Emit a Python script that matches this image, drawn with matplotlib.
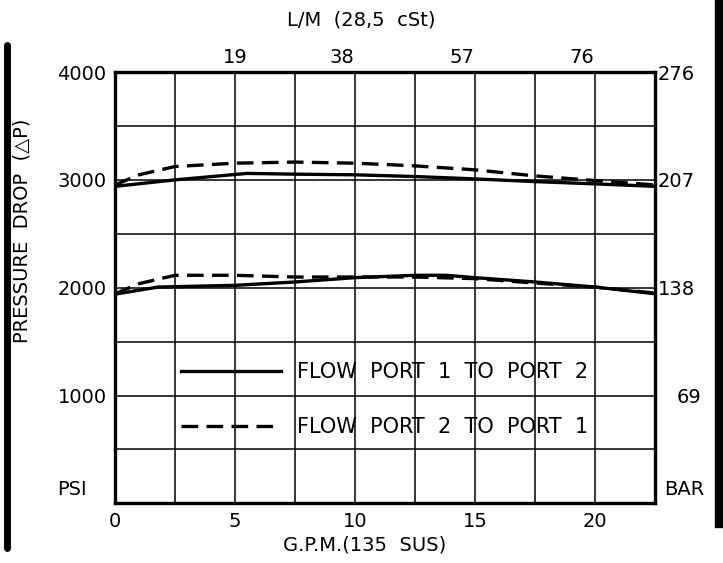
import numpy as np
import matplotlib.pyplot as plt
from matplotlib.lines import Line2D

plt.rcParams['font.family'] = ['DejaVu Sans']

# GPM values
x_up_solid = [0, 2.5, 5.5, 7.5, 10, 12.5, 15, 17.5, 20, 22.5]
y_up_solid = [2940, 3000, 3060, 3053, 3047, 3031, 3009, 2984, 2963, 2940]

x_up_dash = [0, 1.0, 2.5, 5, 7.5, 10, 12.5, 15, 17.5, 20, 22.5]
y_up_dash = [2953, 3047, 3124, 3155, 3165, 3155, 3130, 3093, 3037, 2994, 2953]

x_lo_solid = [0, 1.8, 5, 7.5, 10, 12.5, 13.8, 15, 17.5, 20, 22.5]
y_lo_solid = [1940, 2006, 2022, 2053, 2093, 2115, 2115, 2093, 2053, 2006, 1944]

x_lo_dash = [0, 1.0, 2.5, 5, 7.5, 10, 12.5, 15, 17.5, 20, 22.5]
y_lo_dash = [1944, 2037, 2115, 2115, 2099, 2099, 2099, 2084, 2043, 2006, 1950]

psi_ticks = [1000, 2000, 3000, 4000]
bar_labels = ['69', '138', '207', '276']
gpm_ticks = [0, 5, 10, 15, 20]
lm_pos = [5.0, 9.45, 14.45, 19.45]
lm_labels = ['19', '38', '57', '76']

lw_frame = 2.4
lw_curve = 2.4
fs = 14

fig = plt.figure(figsize=(7.23, 5.63), dpi=100)
ax = fig.add_axes([0.159, 0.106, 0.747, 0.766])

ax.set_xlim(0, 22.5)
ax.set_ylim(0, 4000)
ax.set_xticks(np.arange(0, 22.51, 2.5), minor=True)
ax.set_yticks(np.arange(0, 4001, 500), minor=True)
ax.set_xticks(gpm_ticks)
ax.set_yticks(psi_ticks)
ax.grid(True, which='both', color='black', linewidth=1.1)
ax.tick_params(which='both', length=0, labelsize=fs, pad=6)
for s in ax.spines.values():
    s.set_linewidth(lw_frame)

ax.plot(x_up_solid, y_up_solid, color='black', lw=lw_curve, label='FLOW  PORT  1  TO  PORT  2')
ax.plot(x_up_dash, y_up_dash, color='black', lw=lw_curve, ls=(0, (5, 2.5)),
        label='FLOW  PORT  2  TO  PORT  1')
ax.plot(x_lo_solid, y_lo_solid, color='black', lw=lw_curve)
ax.plot(x_lo_dash, y_lo_dash, color='black', lw=lw_curve, ls=(0, (5, 2.5)))

ax.legend(loc='upper left', bbox_to_anchor=(0.088, 0.371), frameon=False,
          fontsize=15, handlelength=4.8, handletextpad=0.75, labelspacing=1.7)

# right axis in BAR
axr = ax.twinx()
axr.set_ylim(0, 4000)
axr.set_yticks(psi_ticks)
axr.set_yticklabels(bar_labels)
axr.tick_params(length=0, labelsize=fs, pad=2)
axr.yaxis.get_majorticklabels()[0].set_x(1.035)
for s in axr.spines.values():
    s.set_visible(False)

# top axis in L/M
axt = ax.twiny()
axt.set_xlim(0, 22.5)
axt.set_xticks(lm_pos)
axt.set_xticklabels(lm_labels)
axt.tick_params(length=0, labelsize=fs, pad=4)
for s in axt.spines.values():
    s.set_visible(False)

fig.text(0.5, 0.965, 'L/M  (28,5  cSt)', ha='center', va='center', fontsize=fs)
fig.text(0.505, 0.032, 'G.P.M.(135  SUS)', ha='center', va='center', fontsize=fs)
fig.text(0.03, 0.59, 'PRESSURE  DROP  (\u25b3P)', rotation=90, ha='center', va='center', fontsize=fs)
fig.text(0.1, 0.13, 'PSI', ha='center', va='center', fontsize=fs)
fig.text(0.947, 0.13, 'BAR', ha='center', va='center', fontsize=fs)

# border bars at the page edges
fig.add_artist(Line2D([0.010, 0.010], [0.027, 0.92], color='black', lw=5,
                      solid_capstyle='round', transform=fig.transFigure))
fig.add_artist(Line2D([0.995, 0.995], [0.07, 1.0], color='black', lw=6,
                      transform=fig.transFigure))

fig.savefig('out.png', dpi=100)
